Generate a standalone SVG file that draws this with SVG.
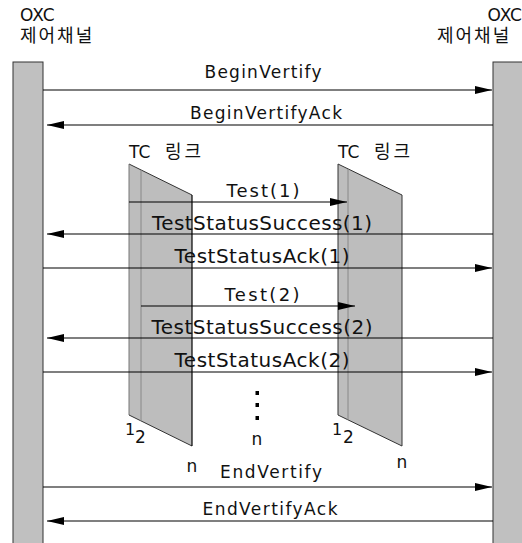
<svg xmlns="http://www.w3.org/2000/svg" width="522" height="543" viewBox="0 0 522 543">
<style>
text{font-family:"DejaVu Sans","Noto Sans CJK KR",sans-serif;fill:#111}
.t{font-size:17px;text-anchor:middle}
.s{font-size:20px;text-anchor:middle}
.k{font-size:18px;letter-spacing:2px}
.bar{fill:#c0c0c0;stroke:#333;stroke-width:1}
.tc{fill:#bdbdbd;stroke:none}
.ln{stroke:#000;stroke-width:1.2;fill:none}
</style>
<defs>
<marker id="ah" markerUnits="userSpaceOnUse" markerWidth="18" markerHeight="10" viewBox="0 0 18 10" refX="17" refY="5" orient="auto">
<path d="M0,1 L17,5 L0,9 Z" fill="#000"/>
</marker>
</defs>
<rect width="522" height="543" fill="#fff"/>

<g id="oxc-left">
<rect class="bar" x="13" y="62" width="30" height="490"/>
<text x="20" y="21" style="font-size:17px">OXC</text>
<text class="k" x="20" y="42">제어채널</text>
</g>
<g id="oxc-right">
<rect class="bar" x="493" y="62" width="32" height="490"/>
<text x="522" y="21" style="font-size:17px;text-anchor:end">OXC</text>
<text class="k" x="437" y="42">제어채널</text>
</g>

<g id="tc-left">
<text x="129" y="158" style="font-size:17px">TC <tspan x="165" style="font-size:18px;letter-spacing:3px">링크</tspan></text>
<polygon class="tc" points="129,164 192,195 192,446 129,415"/>
<line x1="129" y1="164" x2="192" y2="195" stroke="#333" stroke-width="1"/>
<line x1="129" y1="164" x2="129" y2="415" stroke="#777" stroke-width="1"/>
<line x1="129" y1="415" x2="192" y2="446" stroke="#333" stroke-width="1"/>
<line x1="192" y1="195" x2="192" y2="446" stroke="#000" stroke-width="1.2"/>
<line x1="141" y1="170" x2="141" y2="421" stroke="#888" stroke-width="1"/>
<text x="125" y="435" style="font-size:16px">1</text>
<text x="135" y="443" style="font-size:17px">2</text>
<text class="t" x="192" y="472">n</text>
</g>
<g id="tc-right">
<text x="338" y="158" style="font-size:17px">TC <tspan x="374" style="font-size:18px;letter-spacing:3px">링크</tspan></text>
<polygon class="tc" points="338,164 402,195 402,446 338,415"/>
<line x1="338" y1="164" x2="402" y2="195" stroke="#333" stroke-width="1"/>
<line x1="338" y1="164" x2="338" y2="415" stroke="#333" stroke-width="1"/>
<line x1="338" y1="415" x2="402" y2="446" stroke="#333" stroke-width="1"/>
<line x1="402" y1="195" x2="402" y2="446" stroke="#333" stroke-width="1"/>
<line x1="348" y1="169" x2="348" y2="420" stroke="#888" stroke-width="1"/>
<text x="332" y="435" style="font-size:16px">1</text>
<text x="343" y="443" style="font-size:17px">2</text>
<text class="t" x="402" y="468">n</text>
</g>

<g id="ellipsis">
<rect x="255.5" y="391" width="3.5" height="4" fill="#000"/>
<rect x="255.5" y="403" width="3.5" height="4" fill="#000"/>
<rect x="255.5" y="416" width="3.5" height="4" fill="#000"/>
<text class="t" x="257" y="445">n</text>
</g>

<g id="connectors">
<line class="ln" x1="43" y1="90" x2="492" y2="90" marker-end="url(#ah)"/>
<line class="ln" x1="493" y1="125" x2="47" y2="125" marker-end="url(#ah)"/>
<line class="ln" x1="129" y1="202" x2="347" y2="202" marker-end="url(#ah)"/>
<line class="ln" x1="493" y1="234" x2="47" y2="234" marker-end="url(#ah)"/>
<line class="ln" x1="43" y1="268" x2="492" y2="268" marker-end="url(#ah)"/>
<line class="ln" x1="141" y1="306" x2="355" y2="306" marker-end="url(#ah)"/>
<line class="ln" x1="493" y1="338" x2="47" y2="338" marker-end="url(#ah)"/>
<line class="ln" x1="43" y1="372" x2="492" y2="372" marker-end="url(#ah)"/>
<line class="ln" x1="43" y1="487" x2="492" y2="487" marker-end="url(#ah)"/>
<line class="ln" x1="493" y1="521" x2="47" y2="521" marker-end="url(#ah)"/>
</g>

<g id="labels">
<text class="t" x="263" y="78" textLength="117" lengthAdjust="spacing">BeginVertify</text>
<text class="t" x="266" y="119" textLength="152" lengthAdjust="spacing">BeginVertifyAck</text>
<text class="t" x="263" y="197" style="font-size:18px" textLength="73" lengthAdjust="spacing">Test(1)</text>
<text class="s" x="262" y="230" textLength="220" lengthAdjust="spacing">TestStatusSuccess(1)</text>
<text class="s" x="262" y="263" textLength="175" lengthAdjust="spacing">TestStatusAck(1)</text>
<text class="t" x="262" y="301" style="font-size:18px" textLength="75" lengthAdjust="spacing">Test(2)</text>
<text class="s" x="262" y="334" textLength="221" lengthAdjust="spacing">TestStatusSuccess(2)</text>
<text class="s" x="262" y="367" textLength="175" lengthAdjust="spacing">TestStatusAck(2)</text>
<text class="t" x="271" y="478" textLength="102" lengthAdjust="spacing">EndVertify</text>
<text class="t" x="270" y="515" textLength="135" lengthAdjust="spacing">EndVertifyAck</text>
</g>
</svg>
